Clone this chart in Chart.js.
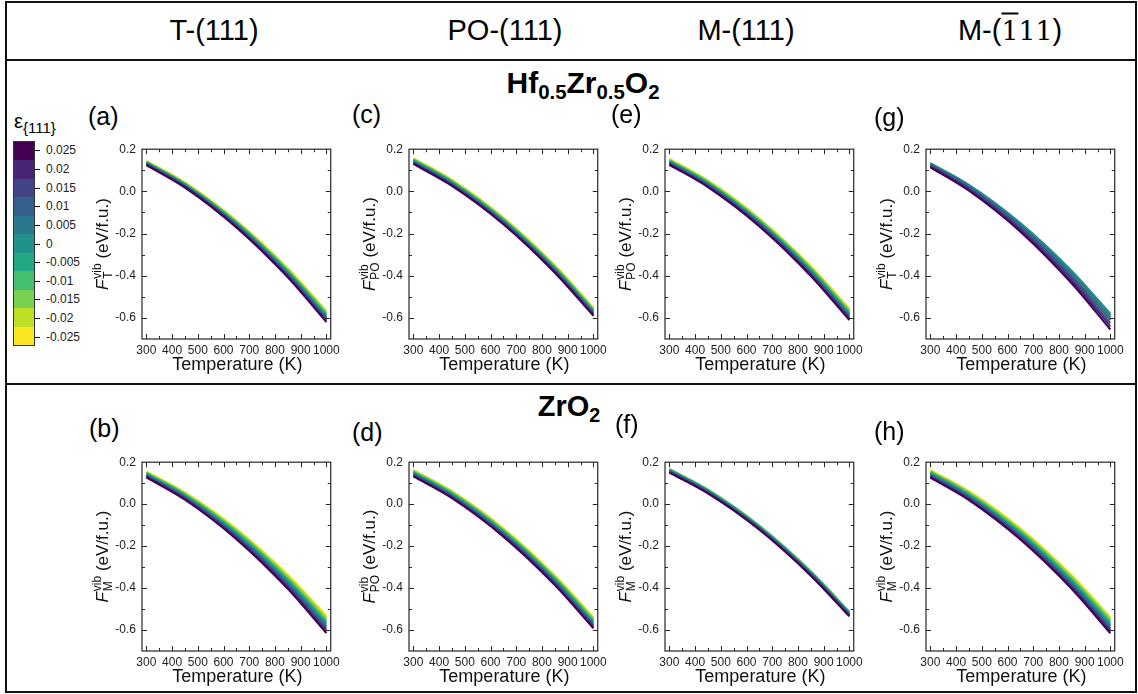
<!DOCTYPE html>
<html>
<head>
<meta charset="utf-8">
<script src="https://cdn.jsdelivr.net/npm/chart.js@4.4.1/dist/chart.umd.min.js"></script>
<style>
  html, body { margin: 0; padding: 0; background: #fff; }
  #fig { position: relative; width: 1138px; height: 694px; overflow: hidden;
         font-family: "Liberation Sans", Arial, sans-serif; color: #000; }
  .rule { position: absolute; background: #111; }
  .txt { position: absolute; white-space: nowrap; line-height: 1; }
  .sub { font-size: 0.68em; position: relative; top: 0.3em; }
  .miller { font-family: "DejaVu Serif", serif; font-size: 0.92em; }
  canvas { position: absolute; }
</style>
</head>
<body>
<div id="fig"></div>
<script>
// ---- data ----------------------------------------------------------------
const temperatures = [300, 450, 650, 850, 1000];
const strains = [0.025, 0.02, 0.015, 0.01, 0.005, 0, -0.005, -0.01, -0.015, -0.02, -0.025];
const strainLabels = ['0.025', '0.02', '0.015', '0.01', '0.005', '0', '-0.005', '-0.01', '-0.015', '-0.02', '-0.025'];
const strainColors = ['#440154', '#482475', '#414487', '#355f8d', '#2a788e', '#21918c',
                      '#22a884', '#44bf70', '#7ad151', '#bddf26', '#fde725'];
const xTicks = [300, 400, 500, 600, 700, 800, 900, 1000];
const yTicks = [0.2, 0.0, -0.2, -0.4, -0.6];
const columnTitles = ['T-(111)', 'PO-(111)', 'M-(111)',
  'M-(<span class="miller"><span style="text-decoration:overline">1</span>11</span>)'];
const panelTags = ['(a)', '(c)', '(e)', '(g)', '(b)', '(d)', '(f)', '(h)'];
const phaseSubs = ['T', 'PO', 'PO', 'T', 'M', 'PO', 'M', 'M'];

// F_vib (eV/f.u.) per strain (rows follow `strains`), columns follow `temperatures`
// Hf0.5Zr0.5O2
const panelA = [
  [0.125, 0.018, -0.171, -0.408, -0.620],
  [0.127, 0.021, -0.168, -0.404, -0.615],
  [0.129, 0.023, -0.164, -0.399, -0.609],
  [0.131, 0.026, -0.161, -0.395, -0.604],
  [0.133, 0.028, -0.157, -0.390, -0.598],
  [0.135, 0.031, -0.154, -0.386, -0.593],
  [0.137, 0.033, -0.151, -0.381, -0.587],
  [0.139, 0.036, -0.147, -0.377, -0.582],
  [0.141, 0.038, -0.144, -0.372, -0.576],
  [0.143, 0.041, -0.140, -0.368, -0.571],
  [0.145, 0.043, -0.137, -0.363, -0.565]
];
const panelC = [
  [0.130, 0.026, -0.156, -0.386, -0.590],
  [0.133, 0.029, -0.153, -0.382, -0.586],
  [0.136, 0.032, -0.149, -0.379, -0.582],
  [0.138, 0.035, -0.146, -0.375, -0.578],
  [0.141, 0.038, -0.143, -0.371, -0.574],
  [0.144, 0.041, -0.140, -0.368, -0.570],
  [0.147, 0.044, -0.136, -0.364, -0.566],
  [0.150, 0.047, -0.133, -0.360, -0.562],
  [0.152, 0.050, -0.130, -0.356, -0.558],
  [0.155, 0.053, -0.126, -0.353, -0.554],
  [0.158, 0.056, -0.123, -0.349, -0.550]
];
const panelE = [
  [0.126, 0.020, -0.166, -0.401, -0.610],
  [0.129, 0.023, -0.162, -0.396, -0.605],
  [0.132, 0.027, -0.158, -0.391, -0.599],
  [0.135, 0.030, -0.154, -0.387, -0.594],
  [0.138, 0.033, -0.150, -0.382, -0.588],
  [0.141, 0.037, -0.147, -0.377, -0.583],
  [0.143, 0.040, -0.143, -0.372, -0.577],
  [0.146, 0.043, -0.139, -0.367, -0.572],
  [0.149, 0.046, -0.135, -0.363, -0.566],
  [0.152, 0.050, -0.131, -0.358, -0.561],
  [0.155, 0.053, -0.127, -0.353, -0.555]
];
const panelG = [
  [0.114, 0.003, -0.191, -0.437, -0.655],
  [0.118, 0.009, -0.183, -0.425, -0.640],
  [0.122, 0.014, -0.175, -0.413, -0.625],
  [0.126, 0.020, -0.166, -0.401, -0.610],
  [0.130, 0.025, -0.158, -0.389, -0.595],
  [0.134, 0.031, -0.150, -0.377, -0.580],
  [0.133, 0.029, -0.153, -0.381, -0.585],
  [0.132, 0.027, -0.155, -0.384, -0.589],
  [0.130, 0.024, -0.159, -0.391, -0.597],
  [0.128, 0.022, -0.163, -0.396, -0.603],
  [0.126, 0.019, -0.167, -0.403, -0.612]
];
// ZrO2
const panelB = [
  [0.128, 0.021, -0.167, -0.404, -0.615],
  [0.131, 0.025, -0.162, -0.397, -0.607],
  [0.134, 0.028, -0.157, -0.390, -0.598],
  [0.136, 0.032, -0.152, -0.383, -0.590],
  [0.139, 0.035, -0.147, -0.376, -0.581],
  [0.142, 0.039, -0.142, -0.370, -0.573],
  [0.145, 0.043, -0.136, -0.363, -0.564],
  [0.148, 0.046, -0.131, -0.356, -0.556],
  [0.150, 0.050, -0.126, -0.349, -0.547],
  [0.153, 0.053, -0.121, -0.342, -0.539],
  [0.156, 0.057, -0.116, -0.335, -0.530]
];
const panelD = [
  [0.132, 0.028, -0.155, -0.386, -0.592],
  [0.135, 0.032, -0.151, -0.381, -0.587],
  [0.138, 0.035, -0.147, -0.376, -0.581],
  [0.142, 0.039, -0.143, -0.372, -0.576],
  [0.145, 0.042, -0.139, -0.367, -0.570],
  [0.148, 0.046, -0.135, -0.362, -0.565],
  [0.151, 0.049, -0.130, -0.357, -0.559],
  [0.154, 0.053, -0.126, -0.352, -0.554],
  [0.158, 0.056, -0.122, -0.348, -0.548],
  [0.161, 0.060, -0.118, -0.343, -0.543],
  [0.164, 0.063, -0.114, -0.338, -0.537]
];
const panelF = [
  [0.150, 0.051, -0.122, -0.341, -0.535],
  [0.152, 0.053, -0.120, -0.338, -0.532],
  [0.155, 0.056, -0.117, -0.336, -0.529],
  [0.157, 0.058, -0.115, -0.333, -0.526],
  [0.159, 0.061, -0.112, -0.330, -0.523],
  [0.161, 0.063, -0.110, -0.327, -0.521],
  [0.164, 0.065, -0.107, -0.325, -0.518],
  [0.166, 0.068, -0.105, -0.322, -0.515],
  [0.168, 0.070, -0.102, -0.319, -0.512],
  [0.166, 0.067, -0.105, -0.323, -0.516],
  [0.164, 0.064, -0.108, -0.326, -0.519]
];
const panelH = [
  [0.126, 0.019, -0.169, -0.405, -0.616],
  [0.130, 0.023, -0.164, -0.398, -0.608],
  [0.134, 0.028, -0.158, -0.392, -0.600],
  [0.137, 0.032, -0.153, -0.385, -0.592],
  [0.141, 0.037, -0.147, -0.378, -0.584],
  [0.145, 0.041, -0.142, -0.372, -0.577],
  [0.149, 0.045, -0.136, -0.365, -0.569],
  [0.153, 0.050, -0.131, -0.358, -0.561],
  [0.156, 0.054, -0.125, -0.351, -0.553],
  [0.160, 0.059, -0.120, -0.345, -0.545],
  [0.164, 0.063, -0.114, -0.338, -0.537]
];
const panelRows = [panelA, panelC, panelE, panelG, panelB, panelD, panelF, panelH];

// ---- layout --------------------------------------------------------------
const FONT = '"Liberation Sans", Arial, sans-serif';
const fig = document.getElementById('fig');

function rule(x, y, w, h) {
  const d = document.createElement('div');
  d.className = 'rule';
  Object.assign(d.style, { left: x + 'px', top: y + 'px', width: w + 'px', height: h + 'px' });
  fig.appendChild(d);
}
function text(html, x, y, size, extra, centered) {
  const d = document.createElement('div');
  d.className = 'txt';
  d.innerHTML = html;
  d.style.left = x + 'px';
  d.style.top = y + 'px';
  d.style.fontSize = size + 'px';
  d.style.transform = centered ? 'translate(-50%,-50%)' : 'translate(0,-50%)';
  if (extra) d.style.cssText += extra;
  fig.appendChild(d);
  return d;
}

// frame rules
rule(5, 1, 1132, 2);
rule(5, 1, 2, 692);
rule(1135, 1, 2, 692);
rule(5, 59, 1132, 2);
rule(5, 383, 1132, 2);
rule(5, 691, 1132, 2);

// column headings
const headX = [214, 505, 746, 1010];
columnTitles.forEach((t, i) => text(t, headX[i], 30, 29, '', true));

// material headings
text('Hf<span class="sub">0.5</span>Zr<span class="sub">0.5</span>O<span class="sub">2</span>',
     583, 83, 30, 'font-weight:bold;', true);
text('ZrO<span class="sub">2</span>', 569, 406, 29, 'font-weight:bold;', true);

// colour bar for the strain
const cbLeft = 13, cbTop = 141, cbW = 22, cbH = 205;
const cellH = cbH / strains.length;
const bar = document.createElement('div');
Object.assign(bar.style, { position: 'absolute', left: cbLeft + 'px', top: cbTop + 'px',
  width: cbW + 'px', height: cbH + 'px', boxSizing: 'border-box', border: '1px solid #333',
  display: 'flex', flexDirection: 'column' });
strainColors.forEach(c => {
  const cell = document.createElement('div');
  cell.style.flex = '1';
  cell.style.background = c;
  bar.appendChild(cell);
});
fig.appendChild(bar);
strainLabels.forEach((lab, i) => {
  const cy = cbTop + cellH * (i + 0.5);
  rule(cbLeft + cbW, Math.round(cy), 5, 1);
  text(lab, cbLeft + cbW + 11, cy, 12, 'color:#222;', false);
});
text('ε<span style="font-size:15px;position:relative;top:5px;">{111}</span>', 14, 121, 20, '', false);

// panel geometry (plot frame positions)
const frameLefts = [142, 409, 665, 926, 142, 409, 665, 926];
const frameTops = [148, 148, 148, 148, 461, 461, 461, 461];
const frameHeights = [191, 191, 191, 191, 190, 190, 190, 190];
const tagPos = [[88, 116], [352, 114], [611, 114], [874, 117],
                [89, 428], [352, 432], [615, 424], [874, 431]];
const FRAME_W = 190, PAD_L = 62, PAD_T = 12, PAD_R = 12, PAD_B = 42;

// frame, inward ticks and axis titles
const decorPlugin = {
  id: 'decor',
  afterDatasetsDraw(chart, args, opts) {
    const { ctx, chartArea: a, scales: { x, y } } = chart;
    ctx.save();
    ctx.strokeStyle = '#262626';
    ctx.lineWidth = 1.2;
    ctx.strokeRect(a.left, a.top, a.right - a.left, a.bottom - a.top);
    ctx.beginPath();
    for (let v = 300; v <= 1000; v += 50) {
      const px = Math.round(x.getPixelForValue(v)) + 0.5;
      const len = v % 100 === 0 ? 5 : 3;
      ctx.moveTo(px, a.bottom); ctx.lineTo(px, a.bottom - len);
      ctx.moveTo(px, a.top); ctx.lineTo(px, a.top + len);
    }
    for (let k = -6; k <= 1; k++) {
      const py = Math.round(y.getPixelForValue(k / 10)) + 0.5;
      const len = k % 2 === 0 ? 5 : 3;
      ctx.moveTo(a.left, py); ctx.lineTo(a.left + len, py);
      ctx.moveTo(a.right, py); ctx.lineTo(a.right - len, py);
    }
    ctx.lineWidth = 1;
    ctx.stroke();

    ctx.fillStyle = '#111';
    // x title
    ctx.font = '18px ' + FONT;
    ctx.textAlign = 'center';
    ctx.textBaseline = 'middle';
    ctx.fillText('Temperature (K)', (a.left + a.right) / 2 + 1, a.bottom + 26);

    // y title: F with stacked superscript/subscript
    const sub = opts.sub;
    ctx.translate(a.left - 40, (a.top + a.bottom) / 2);
    ctx.rotate(-Math.PI / 2);
    ctx.textAlign = 'left';
    ctx.textBaseline = 'alphabetic';
    const big = '17px ' + FONT, small = '12px ' + FONT;
    ctx.font = 'italic ' + big; const wF = ctx.measureText('F').width;
    ctx.font = small;
    const wS = Math.max(ctx.measureText('vib').width, ctx.measureText(sub).width);
    ctx.font = big; const wR = ctx.measureText(' (eV/f.u.)').width;
    let px = -(wF + 1 + wS + wR) / 2;
    const base = 6;
    ctx.font = 'italic ' + big; ctx.fillText('F', px, base); px += wF + 1;
    ctx.font = small; ctx.fillText('vib', px, base - 7); ctx.fillText(sub, px, base + 4); px += wS;
    ctx.font = big; ctx.fillText(' (eV/f.u.)', px, base);
    ctx.restore();
  }
};

panelRows.forEach((rows, p) => {
  const fh = frameHeights[p];
  const cv = document.createElement('canvas');
  const W = FRAME_W + PAD_L + PAD_R, H = fh + PAD_T + PAD_B;
  cv.width = W; cv.height = H;
  cv.style.left = (frameLefts[p] - PAD_L) + 'px';
  cv.style.top = (frameTops[p] - PAD_T) + 'px';
  cv.style.width = W + 'px'; cv.style.height = H + 'px';
  fig.appendChild(cv);

  text(panelTags[p], tagPos[p][0], tagPos[p][1], 25, '', false);

  const tickFont = { family: FONT, size: 12 };
  new Chart(cv, {
    type: 'line',
    data: {
      datasets: strains.map((s, i) => ({
        label: 'ε = ' + strainLabels[i],
        data: temperatures.map((t, k) => ({ x: t, y: rows[i][k] })),
        borderColor: strainColors[i],
        borderWidth: 2,
        pointRadius: 0,
        fill: false,
        cubicInterpolationMode: 'monotone'
      }))
    },
    options: {
      responsive: false,
      animation: false,
      devicePixelRatio: 1,
      layout: { padding: { left: PAD_L - 40, right: PAD_R, top: PAD_T, bottom: 0 } },
      plugins: { legend: { display: false }, tooltip: { enabled: false },
                 decor: { sub: phaseSubs[p] } },
      scales: {
        x: {
          type: 'linear', min: 283, max: 1017,
          grid: { display: false, drawTicks: false, tickLength: 0 },
          border: { display: false },
          afterBuildTicks: s => { s.ticks = xTicks.map(v => ({ value: v })); },
          afterFit: s => { s.height = PAD_B; },
          ticks: { autoSkip: false, maxRotation: 0, minRotation: 0, padding: 4,
                   color: '#222', font: tickFont, callback: v => String(v) }
        },
        y: {
          type: 'linear', min: -0.7, max: 0.2,
          grid: { display: false, drawTicks: false, tickLength: 0 },
          border: { display: false },
          afterBuildTicks: s => { s.ticks = yTicks.map(v => ({ value: v })); },
          afterFit: s => { s.width = 40; },
          ticks: { padding: 6, color: '#222', font: tickFont,
                   callback: v => (Math.abs(v) < 1e-9 ? 0 : v).toFixed(1) }
        }
      }
    },
    plugins: [decorPlugin]
  });
});
</script>
</body>
</html>
